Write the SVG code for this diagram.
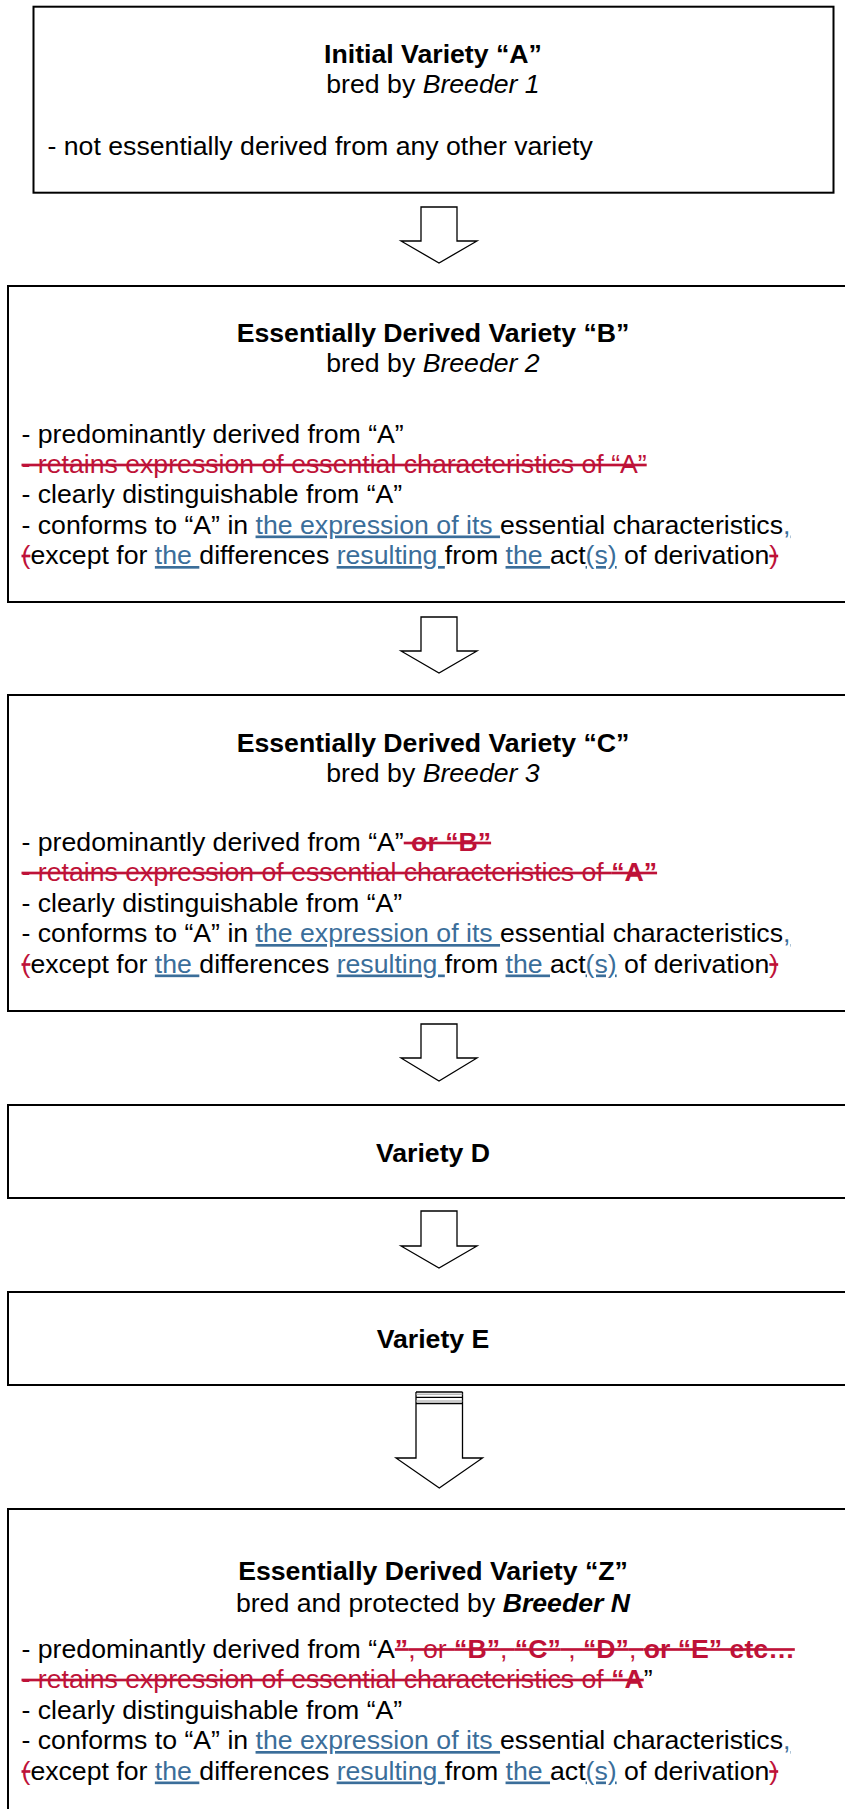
<svg xmlns="http://www.w3.org/2000/svg" width="845" height="1809" viewBox="0 0 845 1809">
<style>
.box{fill:#fff;stroke:#000;stroke-width:2}
.arr{fill:#fff;stroke:#000;stroke-width:1.3;stroke-linejoin:miter}
.t{font-family:"Liberation Sans",Arial,sans-serif;font-size:26.67px;fill:#000}
.c{text-anchor:middle}
.b{font-weight:bold}
.i{font-style:italic}
.del{fill:#BE1238;text-decoration:line-through;text-decoration-skip-ink:none}
.ins{fill:#3B6E9A;text-decoration:underline;text-decoration-skip-ink:none;text-underline-offset:4px}
.blk{fill:#000;text-decoration:none}
</style>
<rect width="845" height="1809" fill="#fff"/>
<g id="connectors">
<path class="arr" d="M421,207 H457 V241 H477 L439,263 L401,241 H421 Z"/>
<path class="arr" d="M421,617 H457 V651 H477 L439,673 L401,651 H421 Z"/>
<path class="arr" d="M421,1024 H457 V1058 H477 L439,1081 L401,1058 H421 Z"/>
<path class="arr" d="M421,1211 H457 V1246 H477 L439,1268 L401,1246 H421 Z"/>
<g id="arrow5">
<path class="arr" d="M416,1392 V1458 H396 L439.3,1488 L482.5,1458 H462.5 V1392"/>
<line x1="416" y1="1392" x2="462.5" y2="1392" stroke="#000" stroke-width="1.3"/>
<line x1="416" y1="1394.2" x2="462.5" y2="1394.2" stroke="#999" stroke-width="1"/>
<line x1="416" y1="1397.4" x2="462.5" y2="1397.4" stroke="#000" stroke-width="1.3"/>
<line x1="416" y1="1401" x2="462.5" y2="1401" stroke="#999" stroke-width="1"/>
<line x1="416" y1="1403.6" x2="462.5" y2="1403.6" stroke="#000" stroke-width="1.5"/>
</g>
</g>
<g id="nodeA">
<rect class="box" x="33.5" y="6.7" width="800" height="186"/>
<text class="t b c" x="433" y="63">Initial Variety “A”</text>
<text class="t c" x="433" y="93" xml:space="preserve">bred by <tspan class="i">Breeder 1</tspan></text>
<text class="t" x="47.5" y="155">- not essentially derived from any other variety</text>
</g>
<g id="nodeB">
<rect class="box" x="8" y="286" width="860" height="316"/>
<text class="t b c" x="433" y="342">Essentially Derived Variety “B”</text>
<text class="t c" x="433" y="372" xml:space="preserve">bred by <tspan class="i">Breeder 2</tspan></text>
<text class="t" x="21.5" y="443">- predominantly derived from “A”</text>
<text class="t" x="21.5" y="473"><tspan class="del">- retains expression of essential characteristics of “A”</tspan></text>
<text class="t" x="21.5" y="503">- clearly distinguishable from “A”</text>
<text class="t" x="21.5" y="533.5" xml:space="preserve">- conforms to “A” in <tspan class="ins">the expression of its </tspan>essential characteristics<tspan class="ins">,</tspan></text>
<text class="t" x="21.5" y="564" xml:space="preserve"><tspan class="del">(</tspan>except for <tspan class="ins">the </tspan>differences <tspan class="ins">resulting </tspan>from <tspan class="ins">the </tspan>act<tspan class="ins">(s)</tspan> of derivation<tspan class="del">)</tspan></text>
</g>
<g id="nodeC">
<rect class="box" x="8" y="695" width="860" height="316"/>
<text class="t b c" x="433" y="752">Essentially Derived Variety “C”</text>
<text class="t c" x="433" y="782" xml:space="preserve">bred by <tspan class="i">Breeder 3</tspan></text>
<text class="t" x="21.5" y="851" xml:space="preserve">- predominantly derived from “A”<tspan class="del b"> or “B”</tspan></text>
<text class="t" x="21.5" y="881" xml:space="preserve"><tspan class="del">- retains expression of essential characteristics of <tspan class="b">“A”</tspan></tspan></text>
<text class="t" x="21.5" y="911.5">- clearly distinguishable from “A”</text>
<text class="t" x="21.5" y="942" xml:space="preserve">- conforms to “A” in <tspan class="ins">the expression of its </tspan>essential characteristics<tspan class="ins">,</tspan></text>
<text class="t" x="21.5" y="972.5" xml:space="preserve"><tspan class="del">(</tspan>except for <tspan class="ins">the </tspan>differences <tspan class="ins">resulting </tspan>from <tspan class="ins">the </tspan>act<tspan class="ins">(s)</tspan> of derivation<tspan class="del">)</tspan></text>
</g>
<g id="nodeD">
<rect class="box" x="8" y="1105" width="860" height="93"/>
<text class="t b c" x="433" y="1162">Variety D</text>
</g>
<g id="nodeE">
<rect class="box" x="8" y="1292" width="860" height="93"/>
<text class="t b c" x="433" y="1348">Variety E</text>
</g>
<g id="nodeZ">
<rect class="box" x="8" y="1509" width="860" height="330"/>
<text class="t b c" x="433" y="1580">Essentially Derived Variety “Z”</text>
<text class="t c" x="433" y="1611.5" xml:space="preserve">bred and protected by <tspan class="b i">Breeder N</tspan></text>
<text class="t" x="21.5" y="1657.5" xml:space="preserve">- predominantly derived from “A<tspan class="del"><tspan class="b">”</tspan>, or <tspan class="b">“B”</tspan>, <tspan class="b">“C”</tspan> , <tspan class="b">“D”</tspan>, <tspan class="b">or “E” etc…</tspan></tspan></text>
<text class="t" x="21.5" y="1688" xml:space="preserve"><tspan class="del">- retains expression of essential characteristics of <tspan class="b">“A</tspan></tspan>”</text>
<text class="t" x="21.5" y="1718.5">- clearly distinguishable from “A”</text>
<text class="t" x="21.5" y="1749" xml:space="preserve">- conforms to “A” in <tspan class="ins">the expression of its </tspan>essential characteristics<tspan class="ins">,</tspan></text>
<text class="t" x="21.5" y="1779.5" xml:space="preserve"><tspan class="del">(</tspan>except for <tspan class="ins">the </tspan>differences <tspan class="ins">resulting </tspan>from <tspan class="ins">the </tspan>act<tspan class="ins">(s)</tspan> of derivation<tspan class="del">)</tspan></text>
</g>
</svg>
